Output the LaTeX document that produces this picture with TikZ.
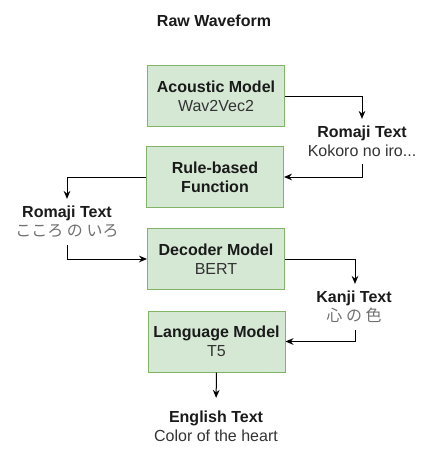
\documentclass[tikz,border=0pt]{standalone}
\usepackage{fontspec}
\setmainfont{Liberation Sans}
\newfontfamily\jpfont{Noto Sans CJK JP}
\usetikzlibrary{arrows.meta}
\definecolor{boxfill}{HTML}{D5E8D4}
\definecolor{boxline}{HTML}{82B366}
\definecolor{titlec}{HTML}{1A1A1A}
\definecolor{subc}{HTML}{333333}
\definecolor{jpc}{HTML}{707070}
\newcommand{\subt}[1]{{\color{subc}#1}}
\newcommand{\jpt}[1]{{\jpfont\color{jpc}#1}}
\begin{document}
\begin{tikzpicture}[x=0.75pt,y=-0.75pt,
  font=\fontsize{12}{14.25}\selectfont,
  proc/.style={draw=boxline, fill=boxfill, line width=0.75pt,
    minimum width=102.75pt, minimum height=45.75pt, align=center,
    inner sep=0pt, text=titlec},
  lbl/.style={align=center, inner xsep=2pt, inner ysep=5.25pt, text=titlec},
  conn/.style={draw=black, line width=0.75pt,
    -{Stealth[length=6pt,width=5pt,inset=2pt]}}]
\useasboundingbox (0,0) rectangle (430,454);

\node[lbl] (raw) at (214,21) {\textbf{Raw Waveform}};
\node[proc] (am) at (216,96) {\textbf{Acoustic Model}\\\subt{Wav2Vec2}};
\node[lbl] (r1) at (362,141.5) {\textbf{Romaji Text}\\\subt{Kokoro no iro...}};
\node[proc] (rb) at (215,177) {\textbf{Rule-based}\\\textbf{Function}};
\node[lbl] (r2) at (67,222) {\textbf{Romaji Text}\\\jpt{こころ の いろ}};
\node[proc] (dec) at (216,259) {\textbf{Decoder Model}\\\subt{BERT}};
\node[lbl] (kj) at (354,307) {\textbf{Kanji Text}\\\jpt{心 の 色}};
\node[proc] (lm) at (216.5,341.5) {\textbf{Language Model}\\\subt{T5}};
\node[lbl] (en) at (216,426.5) {\textbf{English Text}\\\subt{Color of the heart}};

\draw[conn] (am.east) -| (r1.north);
\draw[conn] (r1.south) |- (rb.east);
\draw[conn] (rb.west) -| (r2.north);
\draw[conn] (r2.south) |- (dec.west);
\draw[conn] (dec.east) -| ([xshift=0.75pt]kj.north);
\draw[conn] ([xshift=0.75pt]kj.south) |- (lm.east);
\draw[conn,shorten >=4.5pt] (lm.south) -- (en.north);
\end{tikzpicture}
\end{document}
